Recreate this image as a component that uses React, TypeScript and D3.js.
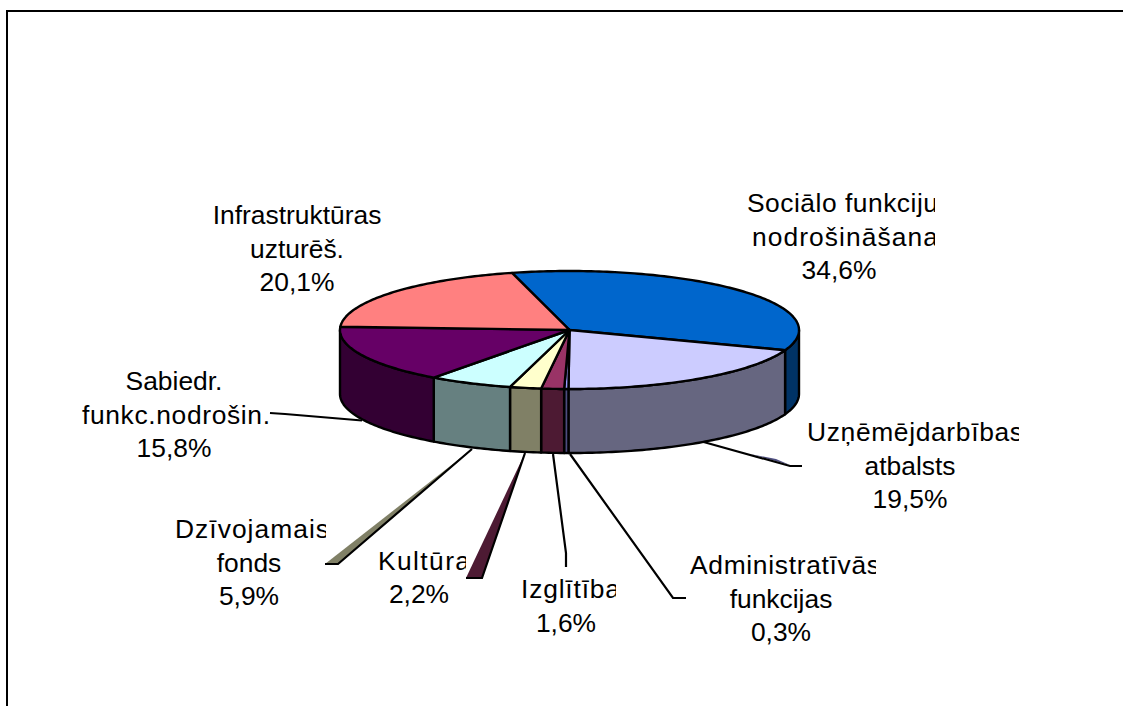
import React from "react";
import * as d3 from "d3";

const categories = ["Sociālo funkciju nodrošināšana", "Uzņēmējdarbības atbalsts", "Administratīvās funkcijas", "Izglītība", "Kultūra", "Dzīvojamais fonds", "Sabiedr. funkc.nodrošin.", "Infrastruktūras uzturēš."];
const values = [34.6, 19.5, 0.3, 1.6, 2.2, 5.9, 15.8, 20.1];
const topColors = ["#0066CC", "#CCCCFF", "#9999FF", "#993366", "#FFFFCC", "#CCFFFF", "#660066", "#FF8080"];
const labelLines = [
  ["Sociālo funkciju", "nodrošināšana", "34,6%"],
  ["Uzņēmējdarbības", "atbalsts", "19,5%"],
  ["Administratīvās", "funkcijas", "0,3%"],
  ["Izglītība", "1,6%"],
  ["Kultūra", "2,2%"],
  ["Dzīvojamais", "fonds", "5,9%"],
  ["Sabiedr.", "funkc.nodrošin.", "15,8%"],
  ["Infrastruktūras", "uzturēš.", "20,1%"],
];
// label layout: centre x, first baseline y, right clip x
const labelX = [839, 910, 781, 566, 419, 249, 174, 297];
const labelY = [212, 441, 574, 598, 569.5, 538, 390, 224];
const labelClip = [935, 1019, 876, 616, 466, 326, 1123, 1123];
// lines set wider than the font's natural width: "label:line" -> [start x, width]
const stretchedLines: Record<string, [number, number]> = {
  "0:0": [747, 191],
  "0:1": [752, 186],
  "1:0": [807, 216],
  "2:0": [690, 190],
  "3:0": [521, 99],
  "4:0": [378, 92],
  "5:0": [175, 154],
  "6:1": [82, 188],
};
// leader polylines + optional sliver fill
const leaders: [number, number][][] = [
  [],
  [[700, 441], [790, 466], [802, 466]],
  [[570, 454], [673, 598], [686, 598]],
  [[553, 454], [566, 553], [566, 567]],
  [[525, 453], [482, 578], [466, 578]],
  [[472, 449], [338, 564], [325, 564]],
  [[362, 420.5], [285, 414], [270, 413]],
  [],
];
const slivers: ([number, number][] | null)[] = [
  null,
  [[750, 454], [790, 465], [776, 459]],
  null,
  null,
  [[525, 453], [482, 578], [466, 578]],
  [[472, 449], [338, 564], [325, 564]],
  null,
  null,
];
const sliverColorIndex = [0, 2, 1, 2, 3, 4, 5, 6];

const cx = 569.5, cy = 330, rx = 229.5, ry = 59, depth = 64;
const rad = Math.PI / 180;
const px = (a: number) => cx + rx * Math.sin(a);
const py = (a: number, dy = 0) => cy - ry * Math.cos(a) + dy;
const halfShade = (col: string) => {
  const c = d3.rgb(col);
  return d3.rgb(c.r / 2, c.g / 2, c.b / 2).formatHex();
};

function arcPoints(a0: number, a1: number, dy = 0): [number, number][] {
  const n = Math.max(2, Math.ceil(Math.abs(a1 - a0) / rad));
  return d3.range(n + 1).map((i) => {
    const a = a0 + ((a1 - a0) * i) / n;
    return [px(a), py(a, dy)] as [number, number];
  });
}
const line = d3.line();

const pie = d3.pie<number>().sort(null).startAngle(-14.5 * rad).endAngle(345.5 * rad);
const arcs = pie(values);

export default function App() {
  const side = arcs.map((d, i) => {
    const a0 = Math.max(d.startAngle, 90 * rad);
    const a1 = Math.min(d.endAngle, 270 * rad);
    if (a1 <= a0) return null;
    const pts = [...arcPoints(a0, a1), ...arcPoints(a1, a0, depth)];
    return { i, path: line(pts)! + "Z" };
  });
  return (
    <svg width={1123} height={706} style={{ position: "absolute", left: 0, top: 0, display: "block", background: "#fff" }}>
      <defs>
        {labelClip.map((c, i) => (
          <clipPath id={`lc${i}`} key={i}>
            <rect x={0} y={0} width={c} height={706} />
          </clipPath>
        ))}
      </defs>
      <path d="M7,706V11H1123" fill="none" stroke="#000" strokeWidth={2} />
      {leaders.map((l, i) =>
        l.length ? (
          <g key={i}>
            {slivers[i] && <path d={line(slivers[i]!)! + "Z"} fill={halfShade(topColors[sliverColorIndex[i]])} stroke="none" />}
            <path d={line(l)!} fill="none" stroke="#000" strokeWidth={2.2} />
          </g>
        ) : null
      )}
      {side.map((s) =>
        s ? (
          <path
            key={s.i}
            d={s.path}
            fill={halfShade(topColors[s.i])}
            stroke="#000"
            strokeWidth={2.4}
            strokeLinejoin="round"
          />
        ) : null
      )}
      {arcs.map((d, i) => (
        <path
          key={i}
          d={line([[cx, cy], ...arcPoints(d.startAngle, d.endAngle)])! + "Z"}
          fill={topColors[i]}
          stroke="#000"
          strokeWidth={2.4}
          strokeLinejoin="round"
        />
      ))}
      {labelLines.map((ls, i) => (
        <g key={i} clipPath={`url(#lc${i})`} aria-label={categories[i]}>
          {ls.map((t, j) => {
            const st = stretchedLines[`${i}:${j}`];
            return (
              <text
                key={j}
                x={st ? st[0] : labelX[i]}
                y={labelY[i] + j * 33.5}
                textAnchor={st ? "start" : "middle"}
                textLength={st ? st[1] : undefined}
                lengthAdjust={st ? "spacing" : undefined}
                fontFamily="'Liberation Sans', Arial, sans-serif"
                fontSize={26.4}
                fill="#000"
              >
                {t}
              </text>
            );
          })}
        </g>
      ))}
    </svg>
  );
}
